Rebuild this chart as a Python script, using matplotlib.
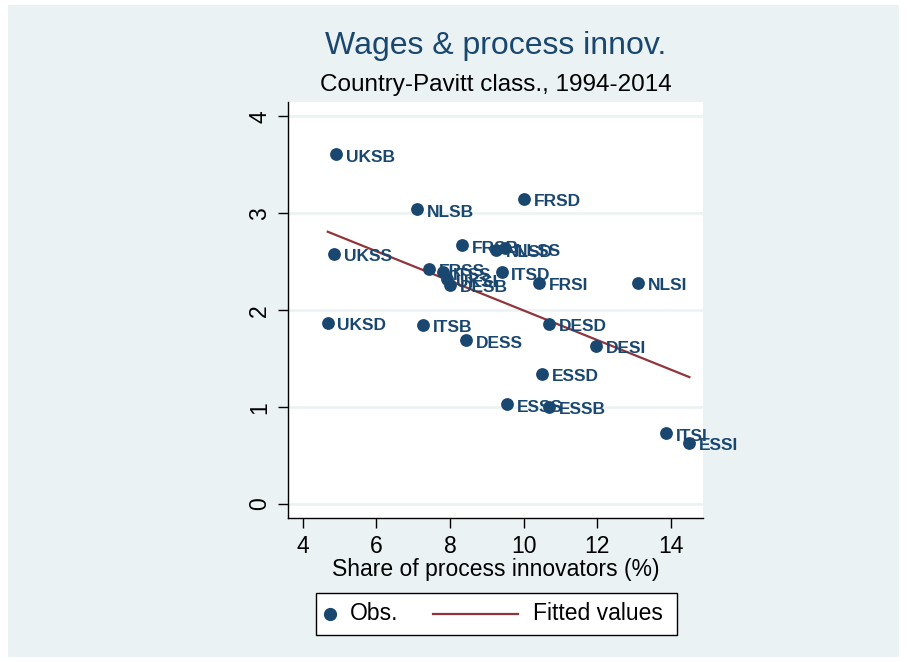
import numpy as np
import matplotlib
matplotlib.use("Agg")
import matplotlib.pyplot as plt
from matplotlib.lines import Line2D
from matplotlib.patches import Rectangle

plt.rcParams['font.family'] = ['Liberation Sans', 'DejaVu Sans']

labels = ["UKSB", "NLSB", "FRSD", "FRSB", "NLSD", "NLSS", "UKSS",
          "FRSS", "ITSS", "UKSI", "DESB", "ITSD", "FRSI", "NLSI",
          "UKSD", "ITSB", "DESS", "DESD", "DESI", "ESSD", "ESSS",
          "ESSB", "ITSI", "ESSI"]
share = [4.90, 7.11, 10.00, 8.32, 9.26, 9.49, 4.85,
         7.43, 7.82, 7.91, 8.00, 9.40, 10.41, 13.10,
         4.68, 7.27, 8.44, 10.70, 11.96, 10.50, 9.55,
         10.70, 13.86, 14.50]
wages = [3.61, 3.04, 3.15, 2.67, 2.62, 2.64, 2.58,
         2.43, 2.39, 2.32, 2.26, 2.39, 2.28, 2.28,
         1.87, 1.85, 1.69, 1.86, 1.63, 1.34, 1.03,
         1.00, 0.73, 0.63]
fit_x = [4.68, 14.50]
fit_y = [2.81, 1.31]
xticks = [4, 6, 8, 10, 12, 14]
yticks = [0, 1, 2, 3, 4]

BLUE = "#1A476F"
RED = "#90353B"
BG = "#EAF2F3"
W, H = 907, 662

def fx(px):
    return px / W

def fy(py):
    return 1 - py / H

fig = plt.figure(figsize=(9.07, 6.62), dpi=100)
fig.patch.set_facecolor("white")
fig.patches.append(Rectangle((fx(8), fy(657)), 891 / W, 652 / H,
                             transform=fig.transFigure, facecolor=BG,
                             edgecolor="none", zorder=-10))

ax = fig.add_axes([fx(288), fy(518), 415 / W, 416 / H])
ax.set_facecolor("white")

x = np.array(share)
y = np.array(wages)
ax.scatter(x, y, s=85, color=BLUE, zorder=3, linewidths=0)
for lab, xi, yi in zip(labels, x, y):
    ax.annotate(lab, (xi, yi), xytext=(7, -2), textcoords="offset points",
                va="center", ha="left", fontsize=12.5, color=BLUE,
                fontweight="bold", zorder=4)

ax.plot(fit_x, fit_y, color=RED, lw=1.6, zorder=2)

ax.set_xlim(3.60, 14.87)
ax.set_ylim(-0.144, 4.149)
ax.set_xticks(xticks)
ax.set_yticks(yticks)
ax.grid(axis="y", color=BG, lw=1.8, zorder=0)
ax.set_axisbelow(True)
for s in ["top", "right"]:
    ax.spines[s].set_visible(False)
for s in ["left", "bottom"]:
    ax.spines[s].set_color("black")
    ax.spines[s].set_linewidth(1.0)
ax.tick_params(axis="both", direction="out", length=7, width=1,
               labelsize=16.5, pad=5)
plt.setp(ax.get_yticklabels(), rotation=90, va="center")
ax.set_xlabel("Share of process innovators (%)", fontsize=16.5, labelpad=0)

fig.text(fx(496), fy(46), "Wages & process innov.", fontsize=23,
         color=BLUE, ha="center", va="center")
fig.text(fx(496), fy(85), "Country-Pavitt class., 1994-2014", fontsize=17.5,
         color="black", ha="center", va="center")

# legend drawn manually to match Stata key layout
fig.patches.append(Rectangle((fx(316), fy(635)), 361 / W, 42 / H,
                             transform=fig.transFigure, facecolor="white",
                             edgecolor="black", lw=1.0, zorder=5))
fig.lines.append(Line2D([fx(330)], [fy(614)], marker="o", ls="none",
                        color=BLUE, markersize=8.5,
                        transform=fig.transFigure, zorder=6))
fig.text(fx(350), fy(614), "Obs.", fontsize=16.5, ha="left", va="center",
         zorder=6)
fig.lines.append(Line2D([fx(433), fx(518)], [fy(614), fy(614)], color=RED,
                        lw=1.6, transform=fig.transFigure, zorder=6))
fig.text(fx(533), fy(614), "Fitted values", fontsize=16.5, ha="left",
         va="center", zorder=6)

fig.savefig("out.png", dpi=100, facecolor=fig.get_facecolor())
